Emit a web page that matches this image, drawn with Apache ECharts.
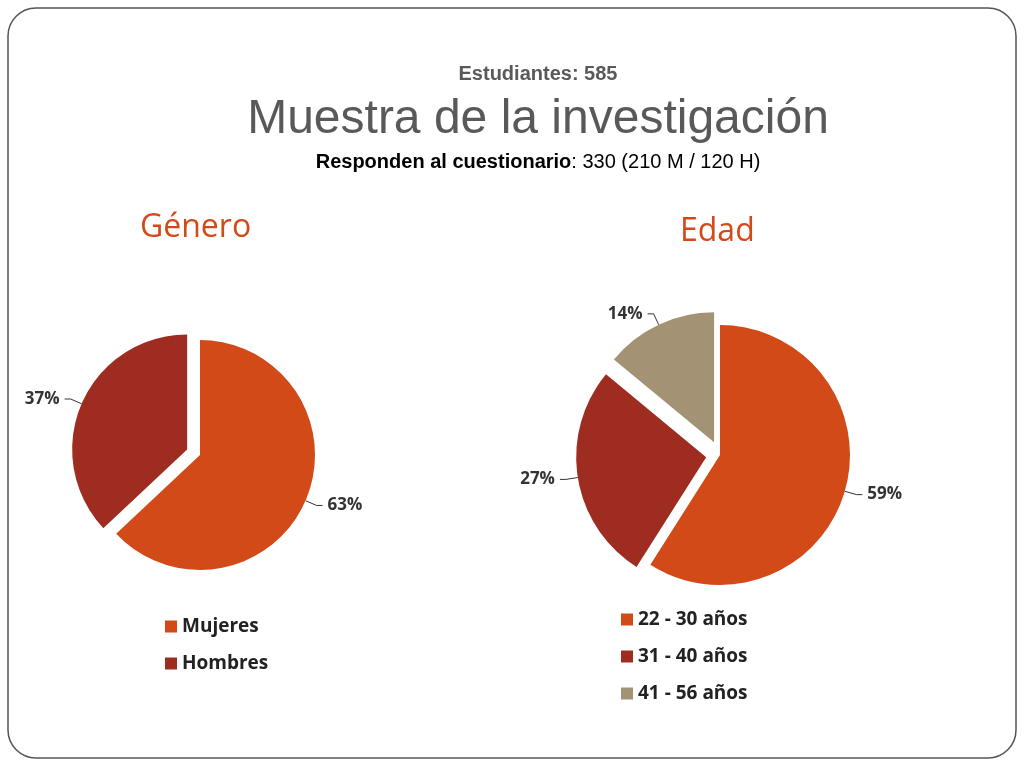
<!DOCTYPE html>
<html><head><meta charset="utf-8">
<script src="https://cdn.jsdelivr.net/npm/echarts@6/dist/echarts.min.js"></script>
<style>html,body{margin:0;padding:0;background:#fff}#c{width:1024px;height:768px}</style>
</head><body><div id="c"></div>
<script>
const genderCats = ['Mujeres','Hombres'];
const genderVals = [63,37];
const ageCats = ['22 - 30 años','31 - 40 años','41 - 56 años'];
const ageVals = [59,27,14];
const genderColors = ['#D24A18','#9E2C20'];
const ageColors = ['#D24A18','#9E2C20','#A39273'];

const chart = echarts.init(document.getElementById('c'));
const font = '"Liberation Sans", Arial, sans-serif';
const lbl = {color:'#333',fontSize:17,fontWeight:'bold',fontFamily:'"Open Sans", Calibri, sans-serif',formatter:'{c}%'};
chart.setOption({
  animation:false,
  graphic:[
    {type:'rect',shape:{x:8,y:8,width:1008,height:750,r:28},style:{fill:'none',stroke:'#555',lineWidth:1.5}},
    {type:'text',x:538,y:64,style:{text:'Estudiantes: 585',font:'bold 20px '+font,fill:'#595959',textAlign:'center'}},
    {type:'text',x:538,y:96,style:{text:'Muestra de la investigación',font:'48px '+font,fill:'#595959',textAlign:'center'}},
    {type:'text',x:538,y:152,style:{rich:{b:{fontWeight:'bold',fontSize:20,fontFamily:font,fill:'#000'},n:{fontSize:20,fontFamily:font,fill:'#000'}},text:'{b|Responden al cuestionario}{n|: 330 (210 M / 120 H)}',textAlign:'center'}},
    {type:'text',x:140,y:212,style:{text:'Género',font:'32px "Open Sans", sans-serif',fill:'#D24A18'}},
    {type:'text',x:680,y:216,style:{text:'Edad',font:'32px "Open Sans", sans-serif',fill:'#D24A18'}}
  ],
  legend:[
    {orient:'vertical',left:160,top:612,itemWidth:12,itemHeight:12,itemGap:18,icon:'rect',data:genderCats,
     textStyle:{fontSize:19,fontWeight:'bold',color:'#222',fontFamily:'"Open Sans", sans-serif'}},
    {orient:'vertical',left:616,top:605,itemWidth:12,itemHeight:12,itemGap:18,icon:'rect',data:ageCats,
     textStyle:{fontSize:19,fontWeight:'bold',color:'#222',fontFamily:'"Open Sans", sans-serif'}}
  ],
  series:[
    {type:'pie',center:[200,455],radius:[0,115],selectedMode:'multiple',selectedOffset:14,
     label:lbl,labelLine:{length:12,length2:6,lineStyle:{color:'#333'}},
     data:genderCats.map((n,i)=>({name:n,value:genderVals[i],selected:i===1,itemStyle:{color:genderColors[i]}}))},
    {type:'pie',center:[720,455],radius:[0,130],selectedMode:'multiple',selectedOffset:14,
     label:lbl,labelLine:{length:12,length2:6,lineStyle:{color:'#333'}},
     data:ageCats.map((n,i)=>({name:n,value:ageVals[i],selected:i!==0,itemStyle:{color:ageColors[i]}}))}
  ]
});
</script></body></html>
